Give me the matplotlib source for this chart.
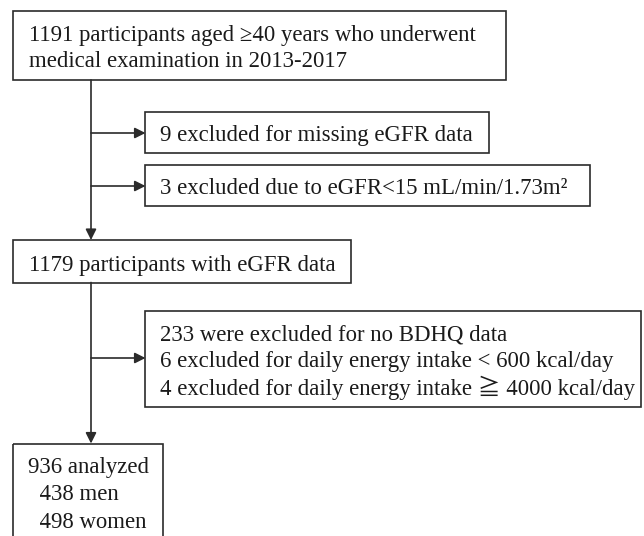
import matplotlib
matplotlib.use("Agg")
import matplotlib.pyplot as plt
from matplotlib.patches import Rectangle

plt.rcParams['font.family'] = ['Liberation Serif', 'Noto Sans CJK JP', 'DejaVu Sans']

# box texts (flow of participants)
top_lines = ["1191 participants aged \u226540 years who underwent",
             "medical examination in 2013-2017"]
excl1_lines = ["9 excluded for missing eGFR data"]
excl2_lines = ["3 excluded due to eGFR<15 mL/min/1.73m\u00b2"]
mid_lines = ["1179 participants with eGFR data"]
excl3_lines = ["233 were excluded for no BDHQ data",
               "6 excluded for daily energy intake < 600 kcal/day",
               "4 excluded for daily energy intake \u2267 4000 kcal/day"]
final_lines = ["936 analyzed", "  438 men", "  498 women"]

W, H = 644, 536
fig = plt.figure(figsize=(W / 100, H / 100), dpi=100)
ax = fig.add_axes([0, 0, 1, 1])
ax.set_xlim(0, W)
ax.set_ylim(H, 0)
ax.axis('off')

FS = 16.4
LC = '#2b2b2b'
spine_x = 91

# box: (left, top, right, bottom, text left, first baseline, line gap)
boxes = [
    (top_lines, (13.5, 10.5, 506.5, 80, 29, 40.5, 26.5)),
    (excl1_lines, (145.5, 112, 489, 153, 160, 141, 26.5)),
    (excl2_lines, (145.5, 165, 590, 206, 160, 194, 26.5)),
    (mid_lines, (13.5, 240, 351.5, 282.5, 29, 270.5, 26.5)),
    (excl3_lines, (145.5, 310.5, 641.5, 406.5, 160, 340, 27.5)),
    (final_lines, (13.5, 443.5, 163.5, 540, 28, 473, 27.5)),
]

for lines, (x0, y0, x1, y1, tx, ty, gap) in boxes:
    ax.add_patch(Rectangle((x0, y0), x1 - x0, y1 - y0, fill=False,
                           edgecolor=LC, linewidth=1.2))
    for i, s in enumerate(lines):
        ax.text(tx, ty + i * gap, s, fontsize=FS, va='baseline', ha='left',
                color='#1a1a1a')

arrow = dict(arrowstyle='-|>', color=LC, lw=1.2, mutation_scale=16,
             shrinkA=0, shrinkB=0)

# vertical flow
ax.annotate('', xy=(spine_x, 240), xytext=(spine_x, 80), arrowprops=arrow)
ax.annotate('', xy=(spine_x, 443.5), xytext=(spine_x, 282.5), arrowprops=arrow)

# side arrows to exclusion boxes
for yy in [133, 186, 358]:
    ax.annotate('', xy=(145.5, yy), xytext=(spine_x, yy), arrowprops=arrow)

fig.savefig('out.png', dpi=100)
